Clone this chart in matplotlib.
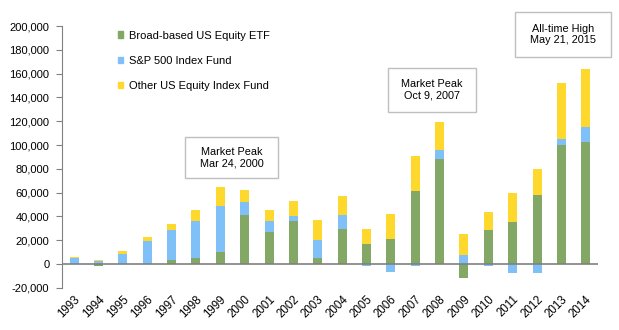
import matplotlib.pyplot as plt
import matplotlib.patches as mpatches
from matplotlib.ticker import FuncFormatter
import numpy as np

plt.rcParams['font.family'] = ['Liberation Sans', 'DejaVu Sans']

# Net new cash flow by fund type, per year
years = [str(y) for y in range(1993, 2015)]
broad_etf = [0, -1400, 0, 0, 3100, 5350, 10400, 40800, 26500, 35800, 5350,
             29000, 17200, 21400, 61100, 88100, -12100, 28200, 34900, 57700, 100000, 102500]
sp500_fund = [4800, 2250, 8700, 18900, 25100, 30450, 38100, 11000, 9300, 4500, 14650,
              11800, -1400, -6500, -1400, 7700, 7900, -1400, -7300, -7300, 5100, 12700]
other_fund = [800, 850, 2000, 3400, 5000, 9300, 16000, 10200, 9300, 12400, 16600,
              16100, 11800, 20300, 29600, 23600, 16900, 15200, 24500, 22000, 47200, 48700]

series = [
    ("Broad-based US Equity ETF", broad_etf, "#83A764"),
    ("S&P 500 Index Fund", sp500_fund, "#80C0F8"),
    ("Other US Equity Index Fund", other_fund, "#FFD82E"),
]

fig = plt.figure(figsize=(6.19, 3.3), dpi=100)
ax = fig.add_axes([0.100, 0.128, 0.866, 0.793])

x = np.arange(len(years))
pos_bottom = np.zeros(len(years))
neg_bottom = np.zeros(len(years))
handles = []
for label, vals, color in series:
    vals = np.array(vals, dtype=float)
    bottom = np.where(vals >= 0, pos_bottom, neg_bottom)
    ax.bar(x, vals, width=0.37, bottom=bottom, color=color, linewidth=0, zorder=2)
    pos_bottom += np.where(vals >= 0, vals, 0)
    neg_bottom += np.where(vals < 0, vals, 0)
    handles.append(mpatches.Patch(color=color, label=label))

ax.set_xlim(-0.5, len(years) - 0.5)
ax.set_ylim(-20000, 200000)
ax.set_yticks(np.arange(-20000, 200001, 20000))
ax.yaxis.set_major_formatter(FuncFormatter(lambda v, p: f"{int(v):,}"))

ax.axhline(0, color="#808080", lw=1.2, zorder=3)
for s in ["top", "right", "bottom"]:
    ax.spines[s].set_visible(False)
ax.spines["left"].set_color("#808080")
ax.tick_params(axis="y", length=4, color="#808080", labelsize=8, pad=5)
ax.tick_params(axis="x", length=0, labelsize=8.3, pad=4)
ax.set_xticks(x)
ax.set_xticklabels(years, rotation=45, ha="right", rotation_mode="anchor")

leg = ax.legend(handles=handles, loc="upper left", bbox_to_anchor=(0.104, 0.983),
                frameon=False, fontsize=8, handlelength=0.5, handleheight=0.5,
                handletextpad=0.5, labelspacing=1.38, borderpad=0, borderaxespad=0)

# Callout boxes
notes = [
    ("Market Peak\nMar 24, 2000", 185, 137, 93, 41),
    ("Market Peak\nOct 9, 2007", 388, 68, 88, 44),
    ("All-time High\nMay 21, 2015", 515, 12, 96, 45),
]
W, H = 619, 330
for txt, bx, by, bw, bh in notes:
    rect = mpatches.Rectangle((bx / W, 1 - (by + bh) / H), bw / W, bh / H,
                              transform=fig.transFigure, fill=True, facecolor="white",
                              edgecolor="#BFBFBF", lw=1)
    fig.patches.append(rect)
    fig.text((bx + bw / 2) / W, 1 - (by + bh / 2) / H, txt, ha="center", va="center",
             fontsize=7.8, linespacing=1.2)

fig.savefig("out.png", dpi=100)
